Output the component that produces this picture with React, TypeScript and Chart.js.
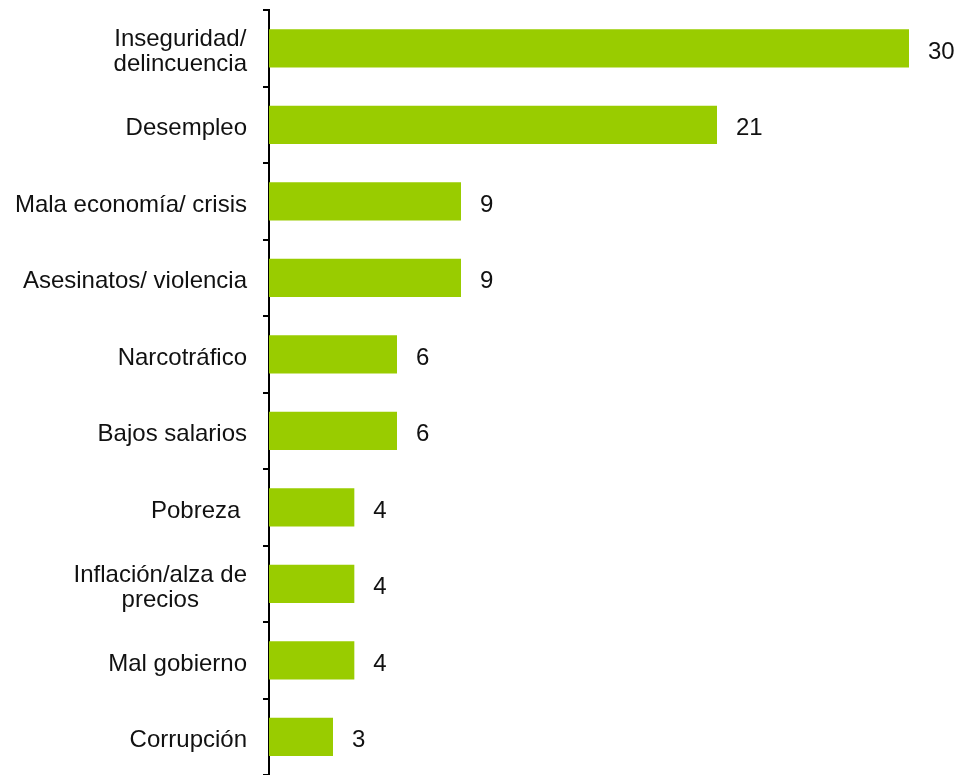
import React, { useEffect, useRef } from "react";
import { Chart, registerables } from "chart.js";

Chart.register(...registerables);

const categories: string[][] = [
  ["Inseguridad/", "delincuencia"],
  ["Desempleo"],
  ["Mala economía/ crisis"],
  ["Asesinatos/ violencia"],
  ["Narcotráfico"],
  ["Bajos salarios"],
  ["Pobreza "],
  ["Inflación/alza de", "precios"],
  ["Mal gobierno"],
  ["Corrupción"],
];

const values: number[] = [30, 21, 9, 9, 6, 6, 4, 4, 4, 3];

const FONT = "24px 'Liberation Sans', Arial, sans-serif";
const TEXT_COLOR = "#111111";

const labelPlugin = {
  id: "customLabels",
  afterDraw(chart: any) {
    const ctx = chart.ctx;
    const yScale = chart.scales.y;
    const xScale = chart.scales.x;
    const area = chart.chartArea;
    ctx.save();
    ctx.font = FONT;
    ctx.fillStyle = TEXT_COLOR;
    ctx.textBaseline = "middle";
    const lineH = 25;
    const dy = 4;
    categories.forEach((lines, i) => {
      const cy = yScale.getPixelForValue(i) + dy;
      const widths = lines.map((l) => ctx.measureText(l).width);
      const blockW = Math.max(...widths);
      const right = area.left - 22;
      const cx = right - blockW / 2;
      ctx.textAlign = "center";
      lines.forEach((l, j) => {
        const y = cy - ((lines.length - 1) * lineH) / 2 + j * lineH;
        ctx.fillText(l, cx, y);
      });
    });
    ctx.textAlign = "left";
    values.forEach((v, i) => {
      const cy = yScale.getPixelForValue(i) + dy;
      const x = xScale.getPixelForValue(v) + 19;
      ctx.fillText(String(v), x, cy);
    });
    ctx.restore();
  },
};

export default function App() {
  const canvasRef = useRef<HTMLCanvasElement | null>(null);

  useEffect(() => {
    document.body.style.margin = "0";
    document.body.style.overflow = "hidden";
    if (!canvasRef.current) return;
    const chart = new Chart(canvasRef.current, {
      type: "bar",
      data: {
        labels: categories,
        datasets: [
          {
            data: values,
            backgroundColor: "#99CC00",
            borderWidth: 0,
            barPercentage: 0.5,
            categoryPercentage: 1,
          },
        ],
      },
      options: {
        indexAxis: "y",
        animation: false,
        responsive: true,
        maintainAspectRatio: false,
        layout: { padding: { left: 263, right: 47, top: 10, bottom: 0 } },
        plugins: {
          legend: { display: false },
          tooltip: { enabled: false },
          title: { display: false },
        },
        scales: {
          x: {
            display: false,
            min: 0,
            max: 30,
          },
          y: {
            display: true,
            grid: {
              drawOnChartArea: false,
              drawTicks: true,
              tickLength: 6,
              color: "#000000",
              lineWidth: 2,
              offset: true,
            },
            border: { display: true, color: "#000000", width: 2 },
            ticks: { display: false },
          },
        },
      },
      plugins: [labelPlugin],
    });
    return () => chart.destroy();
  }, []);

  return (
    <div style={{ width: 956, height: 775, position: "relative" }}>
      <canvas ref={canvasRef} />
    </div>
  );
}
